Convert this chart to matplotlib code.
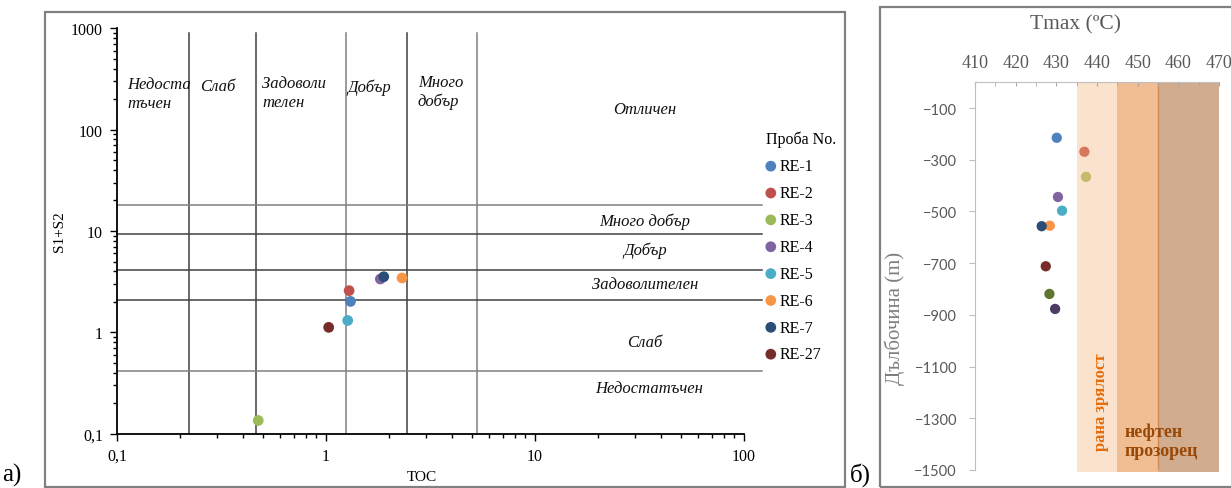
import matplotlib
matplotlib.use('Agg')
import matplotlib.pyplot as plt
from matplotlib.patches import Rectangle

W, H = 1231, 489

# ---- а) S1+S2 vs TOC ----
samples = ['RE-1', 'RE-2', 'RE-3', 'RE-4', 'RE-5', 'RE-6', 'RE-7', 'RE-27']
colors = ['#4F81BD', '#C0504D', '#9BBB59', '#8064A2', '#4BACC6', '#F79646', '#2C4D75', '#772C2A']
toc = [1.31, 1.29, 0.474, 1.82, 1.27, 2.31, 1.89, 1.03]
s1s2 = [2.02, 2.58, 0.135, 3.36, 1.31, 3.44, 3.54, 1.12]

toc_limits = [0.22, 0.46, 1.25, 2.45, 5.3]
s_limits = [18.2, 9.3, 4.1, 2.07, 0.42]
toc_line_col = ['#404040', '#404040', '#808080', '#404040', '#808080']
s_line_col = ['#808080', '#404040', '#404040', '#404040', '#808080']

# ---- б) Tmax vs depth ----
tmax = [430.1, 436.9, 437.3, 430.4, 431.4, 428.4, 426.4, 427.4, 428.3, 429.7]
depth = [-215, -269, -366, -444, -497, -555, -557, -712, -819, -877]
tmax_colors = ['#4F81BD', '#D6775E', '#C4BC6C', '#8064A2', '#4BACC6', '#F79646',
               '#2C4D75', '#772C2A', '#5F7530', '#4D3B62']
zones = [(435, 445, '#FBE2CC'), (445, 455, '#F1BD93'), (455, 470, '#D2AC8E')]

serif = 'Liberation Serif'
plt.rcParams['font.family'] = [serif, 'DejaVu Serif']

fig = plt.figure(figsize=(W / 100, H / 100), dpi=100)

def px(x0, y0, x1, y1):
    return [x0 / W, 1 - y1 / H, (x1 - x0) / W, (y1 - y0) / H]

# frames round the two panels
fig.patches.append(Rectangle((45 / W, 1 - 488 / H), 800 / W, 475 / H, transform=fig.transFigure,
                             fill=False, ec='#808080', lw=1.6))
fig.patches.append(Rectangle((880 / W, 1 - 488 / H), 400 / W, 480 / H, transform=fig.transFigure,
                             fill=False, ec='#808080', lw=1.6))

ax = fig.add_axes(px(117, 29.3, 744, 434.7))
ax.set_xscale('log')
ax.set_yscale('log')
ax.set_xlim(0.1, 100)
ax.set_ylim(0.1, 1000)

for v, c in zip(toc_limits, toc_line_col):
    ax.plot([v, v], [0.1, 900], color=c, lw=1.1, zorder=1)
for v, c in zip(s_limits, s_line_col):
    ax.plot([0.1, 122], [v, v], color=c, lw=1.1, zorder=1, clip_on=False)

for name, c, x, y in zip(samples, colors, toc, s1s2):
    ax.scatter(x, y, s=60, color=c, label=name, zorder=3, edgecolors='none')

ax.set_xticks([0.1, 1, 10, 100])
ax.set_xticklabels(['0,1', '1', '10', '100'])
ax.set_yticks([0.1, 1, 10, 100, 1000])
ax.set_yticklabels(['0,1', '1', '10', '100', '1000'])
ax.tick_params(which='major', length=5, width=1, labelsize=11.5, pad=5)
ax.tick_params(which='minor', length=3, width=1)
ax.spines['top'].set_visible(False)
ax.spines['right'].set_visible(False)
ax.spines['left'].set_linewidth(1.3)
ax.spines['bottom'].set_linewidth(1.3)

ital = dict(style='italic', fontsize=12, color='#111111')
ax.text(0.1117, 227, 'Недоста\nтъчен', ha='left', va='center', linespacing=1.25, **ital)
ax.text(0.249, 270, 'Слаб', ha='left', va='center', **ital)
ax.text(0.494, 235, 'Задоволи\nтелен', ha='left', va='center', linespacing=1.25, **ital)
ax.text(1.27, 266, 'Добър', ha='left', va='center', **ital)
ax.text(2.75, 238, 'Много\nдобър', ha='left', va='center', linespacing=1.25, **ital)
ax.text(33.5, 160, 'Отличен', ha='center', va='center', **ital)
ax.text(33.5, 12.6, 'Много добър', ha='center', va='center', **ital)
ax.text(33.5, 6.5, 'Добър', ha='center', va='center', **ital)
ax.text(33.5, 3.0, 'Задоволителен', ha='center', va='center', **ital)
ax.text(33.5, 0.80, 'Слаб', ha='center', va='center', **ital)
ax.text(35.3, 0.282, 'Недостатъчен', ha='center', va='center', **ital)

fig.text(422 / W, 1 - 478 / H, 'TOC', ha='center', va='center', fontsize=11)
fig.text(60 / W, 1 - 232 / H, 'S1+S2', ha='center', va='center', rotation=90, fontsize=11)
fig.text(2 / W, 2 / H, 'а)', ha='left', va='bottom', fontsize=18)

leg = ax.legend(loc='upper left', bbox_to_anchor=(766 / W, 1 - 132 / H), bbox_transform=fig.transFigure,
                frameon=False, title='Проба No.', alignment='left',
                prop={'size': 11.5}, handlelength=0.6, handletextpad=0.25,
                labelspacing=0.68, borderpad=0, borderaxespad=0)
leg.get_title().set_fontsize(11.5)

# ---- right panel ----
bx = fig.add_axes(px(975, 83.2, 1219, 471))
for x0, x1, c in zones:
    bx.axvspan(x0, x1, ymin=-0.006, ymax=1, color=c, lw=0, zorder=0, clip_on=False)
bx.axvline(455, color='#D08A55', lw=1, zorder=0.5)

for t, d, c in zip(tmax, depth, tmax_colors):
    bx.scatter(t, d, s=55, color=c, edgecolors='none', zorder=3)

bx.set_xlim(410, 470)
bx.set_ylim(-1500, 0)
bx.xaxis.tick_top()
bx.set_xticks([410, 420, 430, 440, 450, 460, 470])
bx.set_xticks(range(415, 470, 10), minor=True)
bx.set_yticks(range(-1500, 0, 200))
bx.tick_params(axis='x', which='both', direction='in', length=3, color='#A6A6A6',
               labelsize=13, labelcolor='#595959', pad=8)
bx.tick_params(axis='y', which='major', direction='out', length=4, color='#BFBFBF',
               labelsize=10.5, labelcolor='#595959', pad=9)
for lab in bx.get_yticklabels():
    lab.set_fontfamily('Lato')
bx.spines['bottom'].set_visible(False)
bx.spines['right'].set_visible(False)
bx.spines['left'].set_color('#BFBFBF')
bx.spines['top'].set_color('#BFBFBF')

fig.text(1075 / W, 1 - 25 / H, 'Tmax (ºC)', ha='center', va='center',
         fontsize=15.5, color='#595959')
fig.text(895 / W, 1 - 318 / H, 'Дълбочина (m)', ha='center', va='center', rotation=90,
         fontsize=15, color='#7F7F7F')
fig.text(1101 / W, 1 - 402 / H, 'рана зрялост', ha='center', va='center', rotation=90,
         fontsize=12, weight='bold', color='#E46C0A')
fig.text(1125 / W, 1 - 442 / H, 'нефтен\nпрозорец', ha='left', va='center', linespacing=1.15,
         fontsize=13, weight='bold', color='#984807')
fig.text(850 / W, 2 / H, 'б)', ha='left', va='bottom', fontsize=18)

fig.savefig('out.png', dpi=100)
